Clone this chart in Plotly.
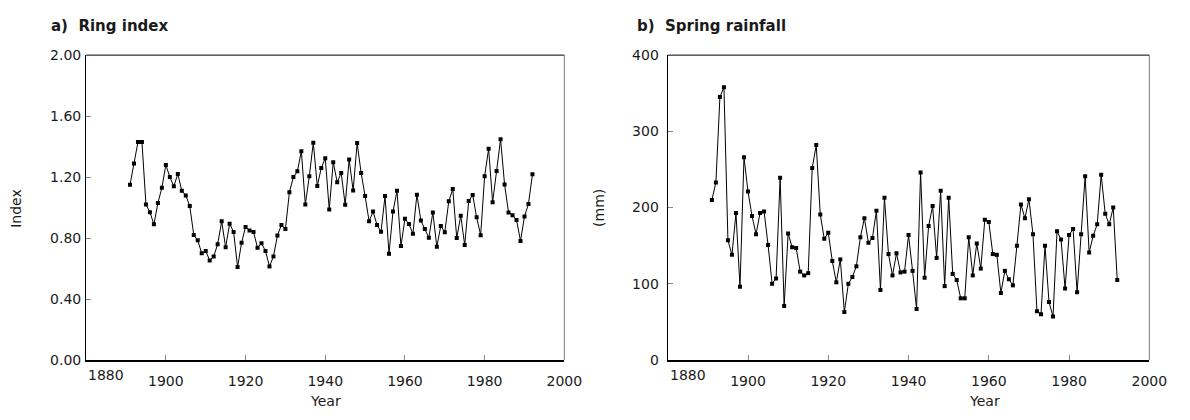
import plotly.graph_objects as go

# Annual series, 1891-1992
years = list(range(1891, 1993))

ring_index = [
    1.15, 1.29, 1.43, 1.43, 1.02, 0.97, 0.89, 1.03, 1.13, 1.28,
    1.20, 1.14, 1.22, 1.11, 1.08, 1.01, 0.82, 0.785, 0.70, 0.716,
    0.653, 0.68, 0.76, 0.91, 0.74, 0.894, 0.84, 0.61, 0.77, 0.873,
    0.85, 0.84, 0.737, 0.766, 0.716, 0.614, 0.68, 0.817, 0.886, 0.859,
    1.10, 1.20, 1.238, 1.37, 1.02, 1.206, 1.426, 1.141, 1.26, 1.324,
    0.988, 1.298, 1.166, 1.227, 1.018, 1.315, 1.112, 1.424, 1.227, 1.076,
    0.911, 0.974, 0.886, 0.842, 1.076, 0.697, 0.974, 1.11, 0.748, 0.926,
    0.892, 0.829, 1.085, 0.915, 0.859, 0.802, 0.968, 0.743, 0.88, 0.838,
    1.041, 1.122, 0.80, 0.947, 0.754, 1.043, 1.083, 0.936, 0.819, 1.206,
    1.386, 1.035, 1.24, 1.449, 1.152, 0.968, 0.949, 0.919, 0.781, 0.942,
    1.024, 1.219,
]

spring_rain = [
    210, 233, 345, 358, 157, 138, 193, 96, 266, 221,
    189, 165, 193, 195, 151, 100, 107, 239, 71, 166,
    148, 147, 116, 111, 114, 252, 282, 191, 159, 167,
    130, 102, 132, 63, 100, 109, 123, 161, 186, 154,
    160, 196, 92, 213, 139, 111, 140, 115, 116, 164,
    117, 67, 246, 108, 176, 202, 134, 222, 97, 213,
    113, 105, 81, 81, 161, 111, 153, 120, 184, 181,
    139, 138, 88, 117, 106, 98, 150, 204, 186, 211,
    165, 64, 60, 150, 76, 57, 169, 158, 94, 164,
    172, 89, 165, 241, 141, 163, 178, 243, 192, 178,
    200, 105,
]

x_ticks = [1880, 1900, 1920, 1940, 1960, 1980, 2000]
ring_ticks = [0.0, 0.4, 0.8, 1.2, 1.6, 2.0]
rain_ticks = [0, 100, 200, 300, 400]

FONT = "DejaVu Sans, sans-serif"
TEXT = "#1a1a1a"

W, H = 1190, 420
top_px, bottom_px = 49, 366
y_dom = [1 - bottom_px / H, 1 - top_px / H]
x1_dom = [87.5 / W, 573 / W]
x2_dom = [678 / W, 1167 / W]

line_style = dict(color="black", width=1)
marker_style = dict(symbol="square", size=4, color="black")

fig = go.Figure()
fig.add_trace(go.Scatter(x=years, y=ring_index, mode="lines+markers",
                         line=line_style, marker=marker_style,
                         xaxis="x", yaxis="y", showlegend=False))
fig.add_trace(go.Scatter(x=years, y=spring_rain, mode="lines+markers",
                         line=line_style, marker=marker_style,
                         xaxis="x2", yaxis="y2", showlegend=False))

# the first year label sits just inside the axis corner, so it is drawn separately
x_ticktext = [""] + [str(v) for v in x_ticks[1:]]

common_x = dict(range=[1880, 2000], tickvals=x_ticks, ticktext=x_ticktext,
                ticks="inside", ticklen=5, tickcolor="#888888", tickwidth=1,
                showline=True, linecolor="black", linewidth=2,
                showgrid=False, zeroline=False, ticklabelstandoff=7,
                tickfont=dict(family=FONT, size=14, color=TEXT))
common_y = dict(ticks="inside", ticklen=5, tickcolor="#888888", tickwidth=1,
                showline=True, linecolor="black", linewidth=1.2,
                showgrid=False, zeroline=False,
                tickfont=dict(family=FONT, size=14, color=TEXT))

fig.update_layout(
    width=W, height=H,
    margin=dict(l=0, r=0, t=0, b=0),
    paper_bgcolor="white", plot_bgcolor="white",
    xaxis=dict(domain=x1_dom, anchor="y", **common_x),
    yaxis=dict(domain=y_dom, anchor="x", range=[0, 2], tickvals=ring_ticks,
               tickformat=".2f", ticklabelstandoff=1, **common_y),
    xaxis2=dict(domain=x2_dom, anchor="y2", **common_x),
    yaxis2=dict(domain=y_dom, anchor="x2", range=[0, 400], tickvals=rain_ticks,
                ticklabelstandoff=5, **common_y),
)

# top and right borders of each panel
shapes = []
for xr, yr in (("x domain", "y domain"), ("x2 domain", "y2 domain")):
    shapes.append(dict(type="line", xref=xr, yref=yr, x0=0, x1=1, y0=1, y1=1,
                       line=dict(color="black", width=1)))
    shapes.append(dict(type="line", xref=xr, yref=yr, x0=1, x1=1, y0=0, y1=1,
                       line=dict(color="#777777", width=1)))
fig.update_layout(shapes=shapes)


def px_x(v):
    return v / W


def px_y(v):
    return 1 - v / H


label_font = dict(size=14, family=FONT, color=TEXT)
annotations = [
    dict(text="<b>a)  Ring index</b>", x=px_x(50), y=px_y(19), xanchor="left",
         yanchor="middle", font=dict(size=15, family=FONT, color=TEXT)),
    dict(text="<b>b)  Spring rainfall</b>", x=px_x(645), y=px_y(19), xanchor="left",
         yanchor="middle", font=dict(size=15, family=FONT, color=TEXT)),
    dict(text="Index", x=px_x(16), y=px_y(208), textangle=-90,
         xanchor="center", yanchor="middle", font=label_font),
    dict(text="(mm)", x=px_x(608), y=px_y(208), textangle=-90,
         xanchor="center", yanchor="middle", font=label_font),
    dict(text="Year", x=px_x(330), y=px_y(409), xanchor="center",
         yanchor="middle", font=label_font),
    dict(text="Year", x=px_x(1000), y=px_y(409), xanchor="center",
         yanchor="middle", font=label_font),
]
for a in annotations:
    a.update(xref="paper", yref="paper")

# first year label of each panel
for xr in ("x", "x2"):
    annotations.append(dict(text=str(x_ticks[0]), x=x_ticks[0], xref=xr,
                            y=px_y(382), yref="paper", xanchor="left",
                            yanchor="middle", font=label_font))

for a in annotations:
    a.update(showarrow=False)
fig.update_layout(annotations=annotations)

fig.write_html("out.html")
